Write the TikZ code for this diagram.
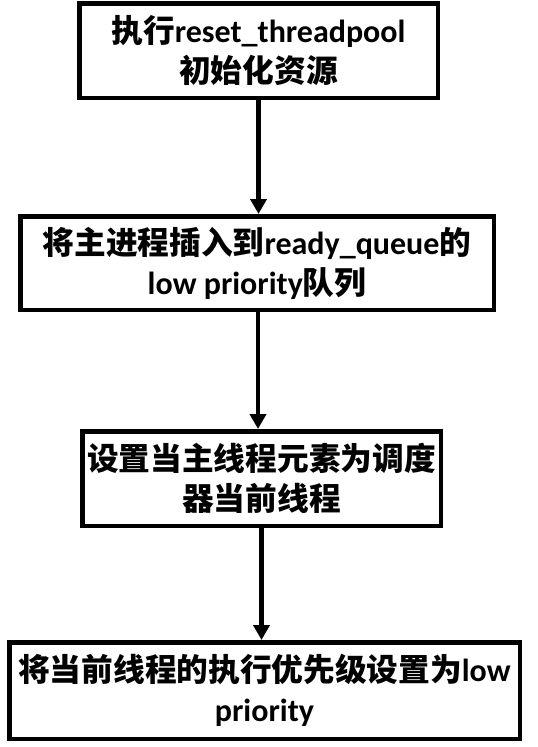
\documentclass[tikz,border=0pt]{standalone}
\usepackage{fontspec}
\setmainfont{Carlito}
\newfontfamily\cjk{Noto Sans CJK SC}[Scale=0.99]
\usetikzlibrary{arrows.meta}
\newcommand\zh[1]{{\cjk\bfseries #1}}
\begin{document}
\begin{tikzpicture}[x=1pt,y=-1pt,
  stepbox/.style={draw=black,line width=4.5pt,fill=white,inner sep=0pt,
    align=center,font=\fontsize{32}{40}\selectfont\bfseries},
  flow/.style={line width=4.5pt,-{Triangle[width=16pt,length=15pt]}}]
\useasboundingbox (0,0) rectangle (538,747);
\node[stepbox,minimum width=358.5pt,minimum height=94.5pt] (b1) at (258.5,50.5)
  {\zh{执行}reset\_threadpool\\ \zh{初始化资源}};
\node[stepbox,minimum width=473.5pt,minimum height=93.5pt] (b2) at (257,263)
  {\zh{将主进程插入到}ready\_queue\zh{的}\\ low priority\zh{队列}};
\node[stepbox,minimum width=358.5pt,minimum height=94.5pt] (b3) at (261.5,478.5)
  {\zh{设置当主线程元素为调度}\\ \zh{器当前线程}};
\node[stepbox,minimum width=510.5pt,minimum height=96.5pt] (b4) at (264.5,690.5)
  {\zh{将当前线程的执行优先级设置为}low\\ priority};
\draw[flow] (b1.south) -- (b1.south |- b2.north);
\draw[flow] ([xshift=1pt]b2.south) -- ([xshift=1pt]b2.south |- b3.north);
\draw[flow] (b3.south) -- (b3.south |- b4.north);
\end{tikzpicture}
\end{document}
